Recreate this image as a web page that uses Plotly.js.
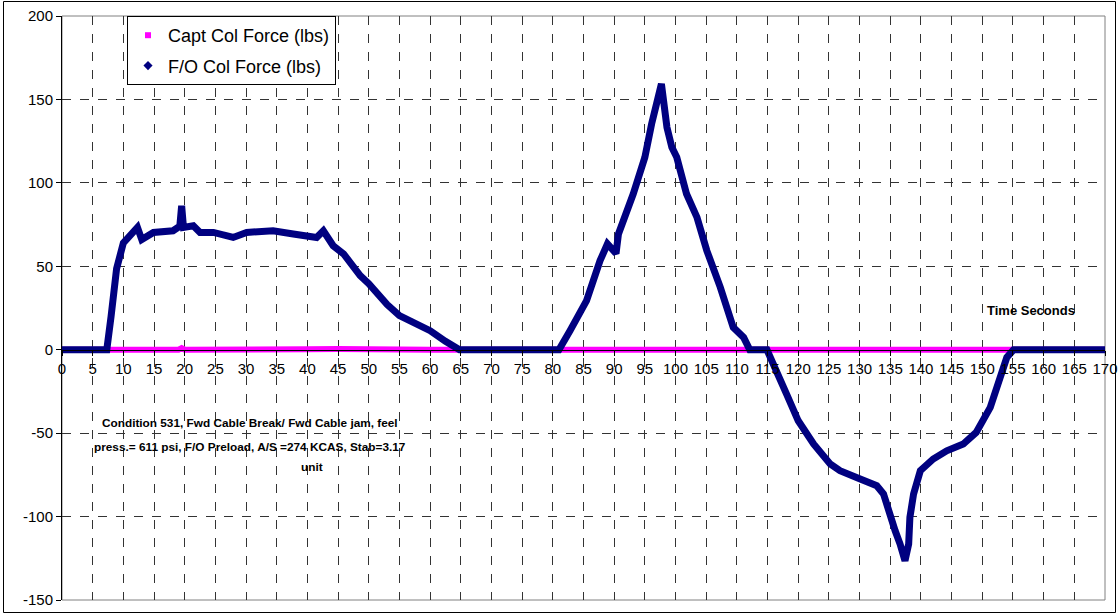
<!DOCTYPE html>
<html><head><meta charset="utf-8">
<script src="https://cdn.plot.ly/plotly-3.0.1.min.js"></script>
<style>html,body{margin:0;padding:0;background:#fff}#chart{width:1118px;height:615px}</style>
</head><body><div id="chart"></div>
<script>
// Time (s) and force (lbs)
const foTime = [0, 3, 7.3, 8.0, 8.9, 10.0, 11.4, 12.3, 13.0, 14.9, 18.1, 19.2, 19.5, 19.8, 21.4, 22.5, 24.7, 27.9, 30.1, 34.4, 37.7, 41.5, 42.6, 44.2, 45.9, 48.6, 50.0, 53.0, 55.0, 57.5, 60.0, 62.5, 64.8,
  70, 75, 81.0, 82.8, 85.5, 87.7, 88.9, 90.3, 90.7, 93.1, 95.0, 96.1, 96.9, 97.7, 98.6, 99.4, 100.2, 101.8, 103.5, 105.1, 107.3, 109.4, 111.1, 112.1, 114.9,
  116.5, 118.1, 120.0, 122.5, 125.2, 126.8, 130.1, 132.8, 133.9, 134.7, 135.8, 136.6, 137.4, 138.0, 138.2, 138.8, 139.9, 142.0, 144.2, 146.9, 149.0, 151.3, 152.9, 154.0, 155.1, 160, 165, 170];
const foForce = [0, 0, 0, 20, 48.6, 64, 69.4, 73.3, 66, 70.3, 71.3, 74, 86.3, 73.3, 74.3, 70.3, 70.3, 67.3, 70.3, 71.3, 69.4, 67.3, 71.3, 62.3, 57.4, 44.4, 39.6, 27, 20.4, 16, 11.4, 5, 0,
  0, 0, 0, 11.4, 29.4, 53.4, 63.4, 57.7, 69.4, 93.3, 115.3, 135.3, 147.3, 159.3, 133.3, 121.3, 115.3, 93.3, 79.3, 59.4, 37.4, 13.4, 7.4, 0, 0,
  -14.6, -26.6, -42.6, -56.5, -68.5, -72.5, -77.5, -81.5, -86.5, -96.5, -108.5, -116.5, -126.5, -116.5, -100.5, -86.5, -72.5, -65.5, -60.6, -56.5, -49.6, -34.6, -18.6, -4.6, 0, 0, 0, 0];
const captTime = [0, 19.0, 19.5, 20.0, 40, 45, 60, 130, 135, 140, 141, 170];
const captForce = [0, 0, 1, 0, 0.3, 0.5, 0, -0.7, -0.8, -0.7, 0, 0];
const xTicks = [];
for (let t = 0; t <= 170; t += 5) xTicks.push(t);
const yTicks = [-150, -100, -50, 0, 50, 100, 150, 200];
const seriesNames = ['Capt Col Force (lbs)', 'F/O Col Force (lbs)'];
const noteLines = ['Condition 531, Fwd Cable Break/ Fwd Cable jam, feel', 'press.= 611 psi, F/O Preload, A/S =274 KCAS, Stab=3.17', 'unit'];
const axisNote = 'Time Seconds';

const CAPT = '#ff00ff', FO = '#000080';
const traces = [
  {x: captTime, y: captForce, mode: 'lines', line: {color: CAPT, width: 6}, showlegend: false, hoverinfo: 'skip'},
  {x: foTime, y: foForce, mode: 'lines', line: {color: FO, width: 7}, showlegend: false, hoverinfo: 'skip'},
  {x: [null], y: [null], mode: 'markers', name: seriesNames[0], legendgroup: 'a', marker: {symbol: 'square', color: CAPT, size: 6}},
  {x: [null], y: [null], mode: 'markers', name: seriesNames[1], legendgroup: 'b', marker: {symbol: 'diamond', color: FO, size: 7}}
];
const font = {family: 'Liberation Sans, Arial, sans-serif', color: '#000'};
const px2x = p => (p - 62) / 1043, px2y = p => (600 - p) / 584;
const layout = {
  width: 1118, height: 615,
  margin: {l: 62, r: 13, t: 16, b: 15},
  paper_bgcolor: '#fff', plot_bgcolor: '#fff',
  font: Object.assign({size: 15}, font),
  showlegend: true,
  legend: {x: px2x(127), y: px2y(16), xanchor: 'left', yanchor: 'top', bgcolor: '#fff', bordercolor: '#000', borderwidth: 1,
    font: Object.assign({size: 18}, font), traceorder: 'grouped', tracegroupgap: 4},
  xaxis: {range: [0, 170], tickvals: xTicks, ticktext: xTicks.map(String), anchor: 'free', position: 150/350,
    showline: true, linecolor: '#000', linewidth: 1, ticks: 'outside', ticklen: 5, tickcolor: '#000',
    showgrid: true, gridcolor: '#333', griddash: 'dash', gridwidth: 1, zeroline: false,
    tickfont: Object.assign({size: 15}, font), fixedrange: true},
  yaxis: {range: [-150, 200], tickvals: yTicks, ticktext: yTicks.map(String), domain: [0, 1],
    showline: true, linecolor: '#000', linewidth: 1, ticks: 'outside', ticklen: 5, tickcolor: '#000',
    showgrid: true, gridcolor: '#333', griddash: 'dash', gridwidth: 1, zeroline: false,
    tickfont: Object.assign({size: 15}, font), fixedrange: true},
  shapes: [
    {type: 'rect', xref: 'paper', yref: 'paper', x0: 0, x1: 1, y0: 0, y1: 1, line: {color: '#808080', width: 1}, layer: 'below'},
    {type: 'rect', xref: 'paper', yref: 'paper', x0: px2x(3.5), x1: px2x(1115.5), y0: px2y(612.5), y1: px2y(1.5), line: {color: '#000', width: 1}}
  ],
  annotations: [
    {xref: 'paper', yref: 'paper', x: px2x(250), y: px2y(423), xanchor: 'center', yanchor: 'middle', showarrow: false,
      text: '<b>' + noteLines[0] + '</b>', font: Object.assign({size: 11.8}, font)},
    {xref: 'paper', yref: 'paper', x: px2x(250), y: px2y(447), xanchor: 'center', yanchor: 'middle', showarrow: false,
      text: '<b>' + noteLines[1] + '</b>', font: Object.assign({size: 11.8}, font)},
    {xref: 'paper', yref: 'paper', x: px2x(312), y: px2y(467), xanchor: 'center', yanchor: 'middle', showarrow: false,
      text: '<b>' + noteLines[2] + '</b>', font: Object.assign({size: 11.8}, font)},
    {xref: 'paper', yref: 'paper', x: px2x(1031), y: px2y(310), xanchor: 'center', yanchor: 'middle', showarrow: false,
      text: '<b>' + axisNote + '</b>', font: Object.assign({size: 13}, font)}
  ]
};
Plotly.newPlot('chart', traces, layout, {displayModeBar: false, staticPlot: true});
</script></body></html>
